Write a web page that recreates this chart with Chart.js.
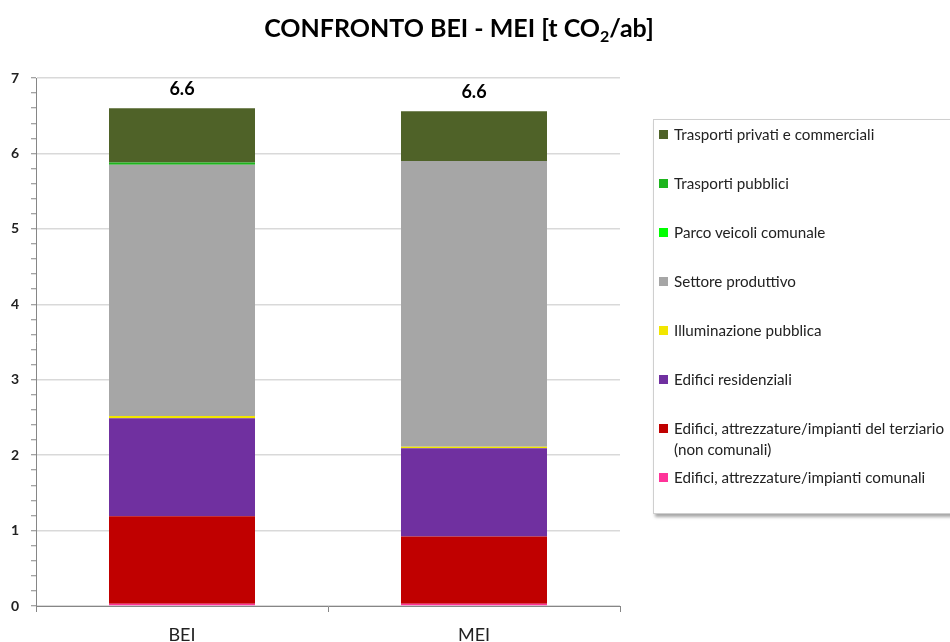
<!DOCTYPE html>
<html>
<head>
<meta charset="utf-8">
<script src="https://cdn.jsdelivr.net/npm/chart.js@4.4.0/dist/chart.umd.min.js"></script>
<style>
  html, body { margin: 0; padding: 0; background: #fff; overflow: hidden; }
  #wrap { position: relative; width: 950px; height: 642px; overflow: hidden; }
  #chart { position: absolute; left: 0; top: 0; }
  #legend {
    position: absolute; left: 653px; top: 119px; width: 330px; height: 393px;
    border: 1px solid #cfcfcf; background: #fff;
    box-shadow: 2px 3px 3px rgba(0,0,0,0.35);
    font-family: Lato, "Open Sans", sans-serif; font-size: 15.2px; color: #222;
  }
  .item { position: absolute; left: 4px; width: 320px; line-height: 21px; }
  .item i { position: absolute; left: 1px; top: 6px; width: 9px; height: 9px; }
  .item span { display: block; margin-left: 16px; width: 290px; }
</style>
</head>
<body>
<div id="wrap">
  <canvas id="chart" width="950" height="642"></canvas>
  <div id="legend"></div>
</div>
<script>
// categories and stacked series (t CO2 per inhabitant), bottom to top
const categories = ["BEI", "MEI"];
const seriesLabels = [
  "Edifici, attrezzature/impianti comunali",
  "Edifici, attrezzature/impianti del terziario (non comunali)",
  "Edifici residenziali",
  "Illuminazione pubblica",
  "Settore produttivo",
  "Parco veicoli comunale",
  "Trasporti pubblici",
  "Trasporti privati e commerciali"
];
const comunali      = [0.03, 0.03];
const terziario     = [1.16, 0.89];
const residenziali  = [1.30, 1.17];
const illuminazione = [0.03, 0.02];
const produttivo    = [3.33, 3.79];
const parcoVeicoli  = [0.00, 0.00];
const pubblici      = [0.03, 0.00];
const privati       = [0.72, 0.66];
const seriesColors = ["#FF3399", "#C00000", "#7030A0", "#F2E600", "#A6A6A6", "#00FF00", "#1DB51D", "#4F6228"];
const yTicks = { min: 0, max: 7, step: 0.2 };

const seriesValues = [comunali, terziario, residenziali, illuminazione, produttivo, parcoVeicoli, pubblici, privati];
const FONT = "Lato, 'Open Sans', sans-serif";

const datasets = seriesValues.map((vals, i) => ({
  label: seriesLabels[i],
  data: vals,
  backgroundColor: seriesColors[i],
  borderWidth: 0,
  categoryPercentage: 1,
  barPercentage: 0.5
}));

const isMajor = v => Math.abs(v - Math.round(v)) < 1e-6;

// title with subscript
const titlePlugin = {
  id: "titleDraw",
  afterDraw(chart) {
    const c = chart.ctx;
    c.save();
    c.fillStyle = "#000";
    c.textBaseline = "alphabetic";
    const big = "bold 25px " + FONT, small = "bold 16px " + FONT;
    const a = "CONFRONTO BEI - MEI [t CO", b = "2", d = "/ab]";
    c.font = big; const wa = c.measureText(a).width, wd = c.measureText(d).width;
    c.font = small; const wb = c.measureText(b).width;
    let x = 459 - (wa + wb + wd) / 2;
    const y = 37;
    c.font = big; c.fillText(a, x, y); x += wa;
    c.font = small; c.fillText(b, x, y + 5); x += wb;
    c.font = big; c.fillText(d, x, y);
    c.restore();
  }
};

// totals above the stacks
const totalsPlugin = {
  id: "totals",
  afterDatasetsDraw(chart) {
    const c = chart.ctx;
    const top = chart.getDatasetMeta(chart.data.datasets.length - 1);
    c.save();
    c.font = "bold 18px " + FONT;
    c.fillStyle = "#000";
    c.textAlign = "center";
    c.textBaseline = "middle";
    categories.forEach((cat, i) => {
      const total = seriesValues.reduce((s, v) => s + v[i], 0);
      const el = top.data[i];
      c.fillText(total.toFixed(1), el.x, el.y - 19);
    });
    c.restore();
  }
};

const chart = new Chart(document.getElementById("chart"), {
  type: "bar",
  data: { labels: categories, datasets: datasets },
  options: {
    responsive: false,
    animation: false,
    layout: { padding: { left: 0, right: 330, top: 78, bottom: 0 } },
    plugins: { legend: { display: false }, tooltip: { enabled: false } },
    scales: {
      x: {
        stacked: true,
        grid: { offset: true, drawOnChartArea: false, color: "#868686", tickLength: 6 },
        border: { color: "#868686" },
        ticks: { color: "#222", font: { family: FONT, size: 18 }, padding: 12 },
        afterFit(s) { s.height = 36; }
      },
      y: {
        stacked: true,
        min: yTicks.min,
        max: yTicks.max,
        grid: {
          color: ctx => isMajor(ctx.tick.value) ? "#d9d9d9" : "rgba(0,0,0,0)",
          lineWidth: 1.5,
          tickColor: "#868686",
          tickWidth: 1,
          tickLength: 5
        },
        border: { color: "#868686" },
        ticks: {
          stepSize: yTicks.step,
          autoSkip: false,
          padding: 12,
          color: "#222",
          font: { family: FONT, size: 14, weight: "bold" },
          callback: v => isMajor(v) ? String(Math.round(v)) : ""
        },
        afterFit(s) { s.width = 36; }
      }
    }
  },
  plugins: [titlePlugin, totalsPlugin]
});

// legend, top to bottom in reverse stacking order
const legend = document.getElementById("legend");
chart.data.datasets.slice().reverse().forEach((ds, i) => {
  const item = document.createElement("div");
  item.className = "item";
  item.style.top = (3.5 + i * 49) + "px";
  const sw = document.createElement("i");
  sw.style.background = ds.backgroundColor;
  const txt = document.createElement("span");
  txt.textContent = ds.label;
  item.appendChild(sw);
  item.appendChild(txt);
  legend.appendChild(item);
});
</script>
</body>
</html>
